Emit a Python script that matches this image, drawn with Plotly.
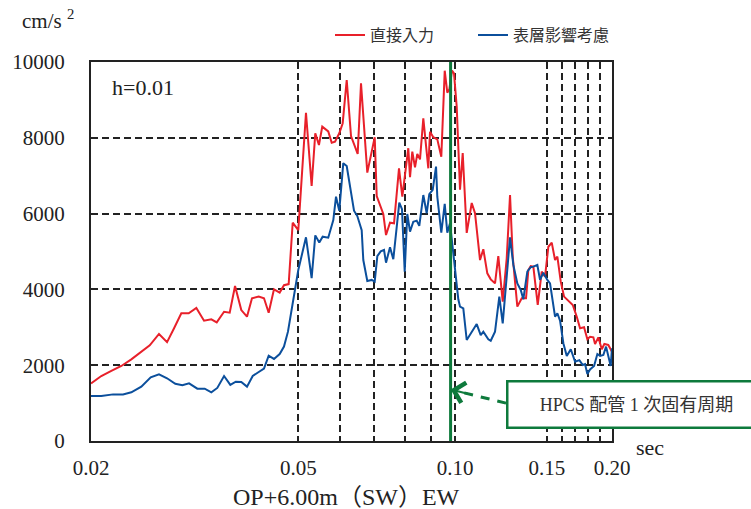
import math
import plotly.graph_objects as go

# Acceleration response spectrum, damping h=0.01, OP+6.00m (SW) EW
# --- 直接入力 (direct input) ---
period_direct = [
    0.0200, 0.02093, 0.02188, 0.02287, 0.02390, 0.02498, 0.02593, 0.02701, 0.02799, 0.02887,
    0.02981, 0.03080, 0.03186, 0.03296, 0.03404, 0.03486, 0.03601, 0.03692, 0.03780, 0.03886,
    0.03985, 0.04074, 0.04197, 0.04296, 0.04386, 0.04490, 0.04604, 0.04693, 0.04791, 0.04877,
    0.04999, 0.05172, 0.05303, 0.05389, 0.05477, 0.05558, 0.05707, 0.05795, 0.05880, 0.05992,
    0.06083, 0.06192, 0.06311, 0.06500, 0.06596, 0.06782, 0.07008, 0.07070, 0.07279, 0.07367,
    0.07498, 0.07632, 0.07802, 0.07917, 0.08129, 0.08191, 0.08274, 0.08374, 0.08459, 0.08561,
    0.08687, 0.08881, 0.08948, 0.09079, 0.09241, 0.09406, 0.09549, 0.09659, 0.09745, 0.09862,
    0.09949, 0.10069, 0.10217, 0.10339, 0.10524, 0.10759, 0.10917, 0.11161, 0.11325, 0.11527,
    0.11702, 0.11926, 0.12101, 0.12339, 0.12559, 0.12744, 0.12897, 0.13162, 0.13421, 0.13678,
    0.13818, 0.13965, 0.14127, 0.14404, 0.14661, 0.14877, 0.15096, 0.15324, 0.15550, 0.15709,
    0.15947, 0.16181, 0.16492, 0.16816, 0.17116, 0.17367, 0.17677, 0.17936, 0.18152, 0.18418,
    0.18557, 0.18830, 0.19114, 0.19336, 0.19676, 0.2000,
]
accel_direct = [
    1520, 1715, 1850, 1980, 2155, 2355, 2525, 2825, 2610, 2975,
    3370, 3370, 3510, 3175, 3210, 3130, 3410, 3385, 4090, 3455,
    3280, 3765, 3810, 3765, 3385, 4000, 3915, 4110, 4140, 5760,
    5565, 8660, 6730, 8120, 7810, 8295, 8170, 7870, 7900, 8120,
    8385, 9525, 8045, 7575, 9440, 7080, 8015, 6465, 5990, 5435,
    5760, 5745, 7195, 6445, 7725, 6960, 7635, 7220, 7575, 7430,
    8515, 7195, 8160, 8015, 7960, 7500, 9770, 9190, 9280, 9770,
    9700, 8820, 6630, 7600, 5490, 6280, 6010, 4775, 5060, 4425,
    4265, 4160, 4880, 3675, 4820, 6490, 4865, 3545, 3765, 3765,
    4510, 4615, 4600, 3590, 4470, 4335, 5125, 5235, 4775, 4865,
    4205, 3810, 3700, 3590, 3280, 2975, 3000, 2685, 2750, 2735,
    2560, 2735, 2420, 2560, 2535, 2355,
]

# --- 表層影響考慮 (surface layer considered) ---
period_surface = [
    0.0200, 0.02093, 0.02205, 0.02304, 0.02390, 0.02498, 0.02604, 0.02701, 0.02799, 0.02903,
    0.02995, 0.03085, 0.03200, 0.03306, 0.03404, 0.03495, 0.03601, 0.03702, 0.03792, 0.03886,
    0.03985, 0.04087, 0.04197, 0.04296, 0.04386, 0.04490, 0.04604, 0.04693, 0.04776, 0.04890,
    0.04999, 0.05172, 0.05303, 0.05389, 0.05485, 0.05568, 0.05707, 0.05836, 0.05906, 0.05992,
    0.06099, 0.06192, 0.06395, 0.06489, 0.06616, 0.06663, 0.06782, 0.06915, 0.07008, 0.07089,
    0.07196, 0.07302, 0.07367, 0.07498, 0.07608, 0.07812, 0.07906, 0.08001, 0.08093, 0.08191,
    0.08311, 0.08437, 0.08534, 0.08687, 0.08818, 0.08920, 0.09055, 0.09189, 0.09241, 0.09406,
    0.09549, 0.09659, 0.09775, 0.09919, 0.10069, 0.10140, 0.10217, 0.10366, 0.10524, 0.10759,
    0.10999, 0.11195, 0.11325, 0.11578, 0.11702, 0.11926, 0.12155, 0.12339, 0.12744, 0.12932,
    0.13162, 0.13362, 0.13516, 0.13757, 0.13965, 0.14127, 0.14379, 0.14551, 0.14765, 0.15029,
    0.15209, 0.15550, 0.15709, 0.15898, 0.16131, 0.16376, 0.16668, 0.16988, 0.17314, 0.17576,
    0.17755, 0.17936, 0.18152, 0.18475, 0.18747, 0.18972, 0.19250, 0.19481, 0.19676, 0.19885,
    0.2000,
]
accel_surface = [
    1185, 1185, 1230, 1230, 1285, 1435, 1680, 1760, 1655, 1510,
    1470, 1520, 1380, 1380, 1285, 1400, 1715, 1480, 1565, 1555,
    1435, 1715, 1820, 1910, 2250, 2165, 2295, 2490, 2885, 3740,
    4510, 5375, 4295, 5425, 5235, 5390, 5365, 5830, 6445, 6075,
    7330, 7255, 6075, 5935, 5565, 4775, 4220, 4250, 4205, 4880,
    5005, 5040, 4705, 5110, 4795, 6290, 6115, 4470, 5990, 5525,
    5785, 5815, 5675, 6490, 6010, 6515, 6625, 7240, 6445, 5495,
    6255, 5495, 5745, 4950, 3985, 3740, 3545, 3500, 2665, 2885,
    3085, 2795, 2885, 2685, 2645, 2885, 3810, 3105, 5375, 4645,
    4160, 3985, 3740, 4470, 4585, 4600, 4645, 4250, 4440, 4250,
    4160, 3280, 3370, 3175, 2580, 2245, 2420, 2095, 2135, 2005,
    2030, 1770, 1890, 1980, 2295, 2245, 2270, 2490, 2245, 1980,
    2445,
]

# Axis ticks and reference periods
x_tick_vals = [0.02, 0.05, 0.10, 0.15, 0.20]
x_tick_text = ["0.02", "0.05", "0.10", "0.15", "0.20"]
x_grid_vals = [0.05, 0.06, 0.07, 0.08, 0.09, 0.10, 0.15, 0.16, 0.17, 0.18, 0.19]
y_tick_vals = [0, 2000, 4000, 6000, 8000, 10000]
y_tick_text = ["0", "2000", "4000", "6000", "8000", "10000"]
HPCS_PERIOD = 0.098        # HPCS piping, 1st natural period [s]
ARROW_TAIL = (0.1252, 1000)
ARROW_HEAD = (0.0995, 1335)

RED = "#e8202a"
BLUE = "#0b4f9c"
GREEN = "#0e7a3c"
GRID = "#222222"
TEXT = "#222222"
SERIF = "'Liberation Serif', 'DejaVu Serif', serif"
CJK = "'Noto Sans CJK JP'"
MIXED = "'Liberation Serif', 'Noto Sans CJK JP', serif"

fig = go.Figure()
fig.add_trace(go.Scatter(x=period_direct, y=accel_direct, mode="lines", name="直接入力",
                         line=dict(color=RED, width=2)))
fig.add_trace(go.Scatter(x=period_surface, y=accel_surface, mode="lines", name="表層影響考慮",
                         line=dict(color=BLUE, width=2)))

# HPCS natural period marker
fig.add_shape(type="line", xref="x", yref="y domain", x0=HPCS_PERIOD, x1=HPCS_PERIOD,
              y0=0, y1=1, line=dict(color=GREEN, width=3), layer="above")
# dashed leader from the label box to the marker, with an open arrowhead
fig.add_shape(type="line", xref="x", yref="y", x0=ARROW_TAIL[0], y0=ARROW_TAIL[1],
              x1=ARROW_HEAD[0], y1=ARROW_HEAD[1],
              line=dict(color=GREEN, width=3, dash="9px,8px"), layer="above")
fig.add_annotation(x=math.log10(HPCS_PERIOD), y=1360, xref="x", yref="y",
                   ax=20, ay=5, showarrow=True, arrowhead=4, arrowsize=2,
                   arrowwidth=2, arrowcolor=GREEN, text=" ")
fig.add_annotation(text="HPCS 配管 1 次固有周期", xref="paper", yref="paper",
                   x=0.7965, y=0.095, xanchor="left", yanchor="middle",
                   width=252, height=40, align="center", showarrow=False,
                   bgcolor="white", bordercolor=GREEN, borderwidth=2.5, borderpad=2,
                   font=dict(family=MIXED, size=18, color="#333333"))

# Text labels
fig.add_annotation(text="h=0.01", xref="paper", yref="paper", x=0.036, y=0.934,
                   xanchor="left", yanchor="middle", showarrow=False,
                   font=dict(family=SERIF, size=22, color=TEXT))
fig.add_annotation(text="cm/s <sup>2</sup>", xref="paper", yref="paper", x=-0.137, y=1.111,
                   xanchor="left", yanchor="middle", showarrow=False,
                   font=dict(family=SERIF, size=21, color=TEXT))
fig.add_annotation(text="sec", xref="paper", yref="paper", x=1.073, y=-0.016,
                   xanchor="center", yanchor="middle", showarrow=False,
                   font=dict(family=SERIF, size=22, color=TEXT))
fig.add_annotation(text="OP+6.00m（SW）EW", xref="paper", yref="paper", x=0.491, y=-0.148,
                   xanchor="center", yanchor="middle", showarrow=False,
                   font=dict(family=MIXED, size=24, color=TEXT))

fig.update_xaxes(
    type="log", range=[math.log10(0.02), math.log10(0.2)],
    tickmode="array", tickvals=x_tick_vals, ticktext=x_tick_text,
    showgrid=False, zeroline=False, ticks="", ticklabelstandoff=7,
    showline=True, linecolor="#222222", linewidth=2, mirror=True,
    tickfont=dict(family=SERIF, size=21, color=TEXT),
    minor=dict(tickmode="array", tickvals=x_grid_vals, showgrid=True, ticks="",
               gridcolor=GRID, gridwidth=1.8, griddash="7px,4px"),
)
fig.update_yaxes(
    range=[0, 10000], tickmode="array", tickvals=y_tick_vals, ticktext=y_tick_text,
    showgrid=True, gridcolor=GRID, gridwidth=1.8, griddash="7px,4px",
    zeroline=False, ticks="", ticklabelstandoff=20,
    showline=True, linecolor="#222222", linewidth=2, mirror=True,
    tickfont=dict(family=SERIF, size=21, color=TEXT),
)

fig.update_layout(
    width=751, height=509,
    margin=dict(l=91, r=139, t=62, b=68),
    paper_bgcolor="white", plot_bgcolor="white",
    showlegend=True,
    legend=dict(orientation="h", x=0.4587, y=1.071, xanchor="left", yanchor="middle",
                entrywidth=98, entrywidthmode="pixels", bgcolor="rgba(0,0,0,0)",
                font=dict(family=CJK, size=16, color="#333333")),
)

fig.write_html("out.html")
